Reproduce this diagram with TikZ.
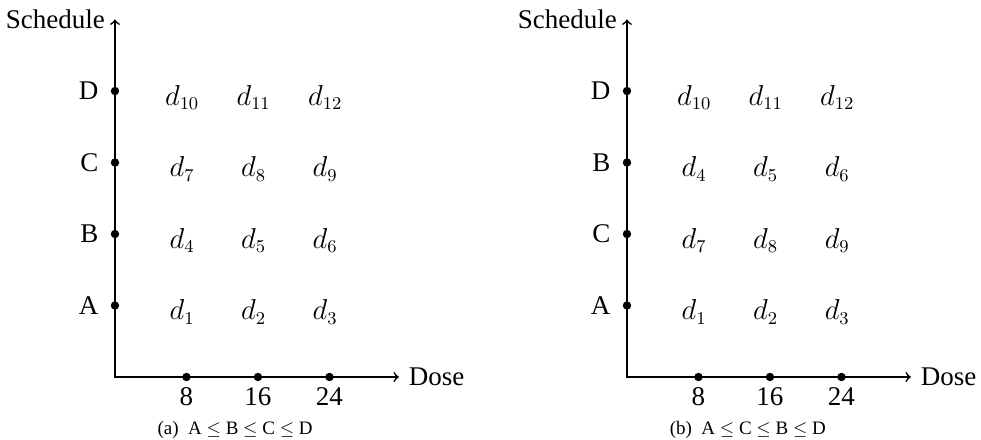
\documentclass[tikz,border=0pt]{standalone}
\usepackage{fontspec}
\setmainfont{Liberation Serif}
\usetikzlibrary{positioning}

\tikzset{
  axe/.style={<->, line width=0.85pt},
  point/.style={circle, fill, inner sep=0pt, minimum size=4.2pt},
  etiq/.style={font=\fontsize{13.5}{16}\selectfont},
  legende/.style={font=\fontsize{9.5}{11.5}\selectfont},
}

\begin{document}
\begin{tikzpicture}[x=35.75pt, y=35.75pt]
    \useasboundingbox (-1.608,-0.867) rectangle (12.112,5.273);

    % Premier graphe : A <= B <= C <= D
    \begin{scope}
        \coordinate (Oa) at (0,0);
        \coordinate (Ya) at (0,5);
        \coordinate (Xa) at (3.97,0);
        \draw[axe] (Ya) -- (Oa) -- (Xa);
        \node[etiq, left=1.5pt of Ya] (schedA) {Schedule};
        \node[etiq, right=1.5pt of Xa] (doseA) {Dose};

        % Doses sur l'axe horizontal
        \foreach \x/\v in {1/8, 2/16, 3/24} {
            \node[point] (ta\x) at (\x,0) {};
            \node[etiq, below=-0.5pt of ta\x] (va\x) {\v};
        }

        % Schemas sur l'axe vertical
        \foreach \y/\l in {1/A, 2/B, 3/C, 4/D} {
            \node[point] (sa\y) at (0,\y) {};
            \node[etiq, left=2.5pt of sa\y] (la\y) {\l};
        }

        % Combinaisons
        \foreach \y/\k in {1/0, 2/3, 3/6, 4/9}
            \foreach \x in {1,2,3} {
                \pgfmathtruncatemacro{\n}{\k+\x}
                \node[etiq] (da\y\x) at (\x-0.06,\y-0.09) {$d_{\n}$};
            }

        \node[legende] (legA) at (1.68,-0.74) {(a)~~A $\leq$ B $\leq$ C $\leq$ D};
    \end{scope}

    % Second graphe : A <= C <= B <= D
    \begin{scope}[xshift=256pt]
        \coordinate (Ob) at (0,0);
        \coordinate (Yb) at (0,5);
        \coordinate (Xb) at (3.97,0);
        \draw[axe] (Yb) -- (Ob) -- (Xb);
        \node[etiq, left=1.5pt of Yb] (schedB) {Schedule};
        \node[etiq, right=1.5pt of Xb] (doseB) {Dose};

        % Doses sur l'axe horizontal
        \foreach \x/\v in {1/8, 2/16, 3/24} {
            \node[point] (tb\x) at (\x,0) {};
            \node[etiq, below=-0.5pt of tb\x] (vb\x) {\v};
        }

        % Schemas sur l'axe vertical
        \foreach \y/\l in {1/A, 2/C, 3/B, 4/D} {
            \node[point] (sb\y) at (0,\y) {};
            \node[etiq, left=2.5pt of sb\y] (lb\y) {\l};
        }

        % Combinaisons
        \foreach \y/\k in {1/0, 2/6, 3/3, 4/9}
            \foreach \x in {1,2,3} {
                \pgfmathtruncatemacro{\n}{\k+\x}
                \node[etiq] (db\y\x) at (\x-0.06,\y-0.09) {$d_{\n}$};
            }

        \node[legende] (legB) at (1.69,-0.74) {(b)~~A $\leq$ C $\leq$ B $\leq$ D};
    \end{scope}

\end{tikzpicture}
\end{document}
